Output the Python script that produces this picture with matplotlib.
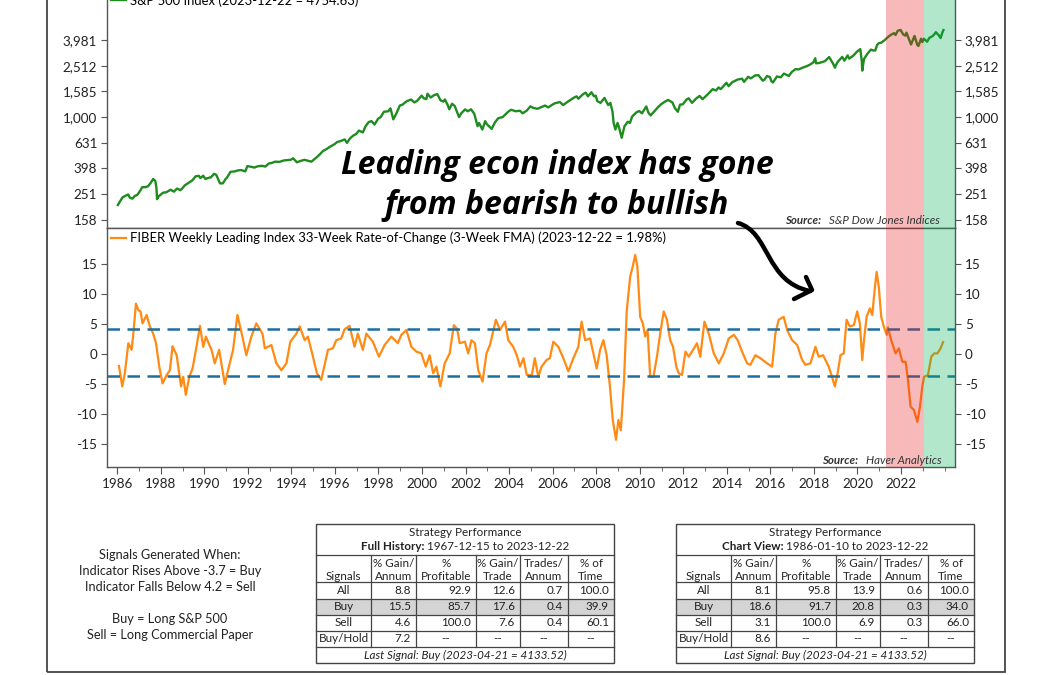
import matplotlib
matplotlib.use("Agg")
import matplotlib.pyplot as plt
from matplotlib.patches import Rectangle, PathPatch
from matplotlib.path import Path
from matplotlib.lines import Line2D
from matplotlib.ticker import FixedLocator, MultipleLocator, NullFormatter

plt.rcParams['font.family'] = ['Lato', 'DejaVu Sans']

# S&P 500 (year, level)
sp_year = [1986.03, 1986.12, 1986.25, 1986.40, 1986.50, 1986.58, 1986.70, 1986.80, 1986.92,
           1987.04, 1987.15, 1987.30, 1987.42, 1987.55, 1987.65, 1987.75, 1987.80, 1987.83, 1987.90, 1987.97,
           1988.10, 1988.25, 1988.45, 1988.60, 1988.75, 1988.90, 1988.98,
           1989.10, 1989.30, 1989.45, 1989.60, 1989.75, 1989.82, 1989.95,
           1990.05, 1990.15, 1990.30, 1990.45, 1990.55, 1990.72, 1990.85, 1990.97,
           1991.05, 1991.20, 1991.40, 1991.55, 1991.70, 1991.88, 1991.98,
           1992.15, 1992.30, 1992.45, 1992.65, 1992.80, 1992.97,
           1993.10, 1993.25, 1993.45, 1993.65, 1993.85, 1993.98,
           1994.08, 1994.25, 1994.40, 1994.60, 1994.80, 1994.92, 1994.98,
           1995.15, 1995.30, 1995.45, 1995.60, 1995.75, 1995.98,
           1996.10, 1996.25, 1996.45, 1996.55, 1996.70, 1996.85, 1996.98,
           1997.10, 1997.28, 1997.40, 1997.55, 1997.68, 1997.82, 1997.98,
           1998.10, 1998.25, 1998.45, 1998.55, 1998.68, 1998.80, 1998.98,
           1999.10, 1999.30, 1999.50, 1999.65, 1999.78, 1999.98,
           2000.08, 2000.20, 2000.25, 2000.40, 2000.55, 2000.70, 2000.85, 2000.98,
           2001.05, 2001.18, 2001.25, 2001.38, 2001.50, 2001.70, 2001.80, 2001.98,
           2002.10, 2002.25, 2002.40, 2002.55, 2002.62, 2002.77, 2002.90, 2002.98,
           2003.10, 2003.20, 2003.35, 2003.50, 2003.70, 2003.98,
           2004.10, 2004.30, 2004.50, 2004.62, 2004.80, 2004.98,
           2005.10, 2005.30, 2005.50, 2005.65, 2005.80, 2005.98,
           2006.10, 2006.33, 2006.48, 2006.70, 2006.98,
           2007.10, 2007.18, 2007.40, 2007.52, 2007.62, 2007.78, 2007.90, 2007.98,
           2008.05, 2008.20, 2008.38, 2008.55, 2008.65, 2008.75, 2008.80, 2008.88, 2008.98,
           2009.05, 2009.17, 2009.30, 2009.45, 2009.55, 2009.65, 2009.85, 2009.98,
           2010.10, 2010.30, 2010.40, 2010.50, 2010.65, 2010.85, 2010.98,
           2011.10, 2011.30, 2011.50, 2011.62, 2011.75, 2011.85, 2011.98,
           2012.15, 2012.25, 2012.40, 2012.60, 2012.75, 2012.88, 2012.98,
           2013.15, 2013.35, 2013.50, 2013.62, 2013.72, 2013.98,
           2014.08, 2014.25, 2014.50, 2014.70, 2014.79, 2014.98,
           2015.10, 2015.30, 2015.45, 2015.65, 2015.72, 2015.85, 2015.98,
           2016.05, 2016.12, 2016.30, 2016.48, 2016.62, 2016.85, 2016.98,
           2017.15, 2017.30, 2017.50, 2017.70, 2017.85, 2017.98,
           2018.06, 2018.10, 2018.25, 2018.50, 2018.70, 2018.85, 2018.97, 2018.99,
           2019.10, 2019.30, 2019.40, 2019.55, 2019.62, 2019.80, 2019.98,
           2020.05, 2020.13, 2020.20, 2020.22, 2020.30, 2020.45, 2020.62, 2020.72, 2020.82, 2020.90, 2020.98,
           2021.10, 2021.25, 2021.40, 2021.55, 2021.68, 2021.75, 2021.85, 2021.98,
           2022.10, 2022.20, 2022.25, 2022.40, 2022.46, 2022.62, 2022.75, 2022.80, 2022.92, 2022.98,
           2023.05, 2023.20, 2023.30, 2023.45, 2023.55, 2023.60, 2023.75, 2023.82, 2023.90, 2023.95]
sp_val = [207, 220, 238, 245, 250, 236, 232, 243, 248,
          265, 285, 285, 290, 310, 330, 318, 282, 230, 242, 247,
          258, 260, 272, 263, 278, 270, 278,
          294, 310, 322, 346, 349, 335, 350,
          330, 335, 340, 362, 355, 305, 305, 328,
          340, 375, 378, 385, 387, 378, 416,
          410, 405, 414, 418, 412, 436,
          440, 450, 448, 460, 463, 466,
          478, 445, 455, 465, 455, 450, 459,
          485, 512, 545, 562, 585, 615,
          640, 650, 670, 630, 685, 720, 740,
          785, 760, 845, 915, 930, 875, 970,
          1000, 1100, 1110, 1170, 960, 1050, 1229,
          1250, 1330, 1370, 1300, 1340, 1469,
          1400, 1380, 1520, 1420, 1480, 1510, 1350, 1320,
          1370, 1240, 1150, 1270, 1220, 1000, 1070, 1148,
          1110, 1150, 1060, 850, 900, 800, 930, 880,
          840, 810, 910, 980, 1000, 1110,
          1140, 1110, 1120, 1070, 1120, 1212,
          1180, 1160, 1200, 1230, 1190, 1248,
          1280, 1310, 1240, 1320, 1418,
          1450, 1390, 1510, 1550, 1450, 1560, 1450, 1468,
          1330, 1290, 1410, 1240, 1290, 1100, 900, 800, 900,
          830, 690, 850, 920, 900, 1010, 1090, 1115,
          1070, 1210, 1080, 1030, 1100, 1200, 1258,
          1300, 1360, 1300, 1170, 1100, 1250, 1258,
          1370, 1400, 1290, 1400, 1460, 1380, 1426,
          1520, 1650, 1610, 1700, 1650, 1848,
          1740, 1870, 1960, 1990, 1880, 2060,
          2000, 2110, 2120, 1920, 1950, 2090, 2044,
          1900, 1860, 2070, 2040, 2180, 2090, 2239,
          2360, 2350, 2430, 2500, 2580, 2674,
          2870, 2620, 2640, 2720, 2930, 2660, 2420, 2500,
          2700, 2940, 2750, 3020, 2850, 3000, 3231,
          3300, 3380, 2710, 2300, 2830, 3100, 3350, 3300, 3300, 3640, 3756,
          3800, 3970, 4200, 4380, 4500, 4350, 4700, 4766,
          4400, 4300, 4540, 3900, 3670, 4280, 3640, 3580, 4070, 3839,
          4070, 3860, 4130, 4270, 4450, 4580, 4300, 4120, 4550, 4755]

# FIBER leading index 33-week rate of change (%)
lei_year = [1986.08, 1986.23, 1986.35, 1986.51, 1986.66, 1986.74, 1986.86, 1986.97, 1987.07, 1987.16,
            1987.35, 1987.50, 1987.65, 1987.78, 1987.93, 1988.08, 1988.27, 1988.42, 1988.54, 1988.73,
            1988.93, 1989.03, 1989.15, 1989.31, 1989.46, 1989.64, 1989.80, 1989.95, 1990.07, 1990.33,
            1990.48, 1990.68, 1990.94, 1991.09, 1991.32, 1991.52, 1991.70, 1991.93, 1992.16, 1992.39,
            1992.67, 1992.78, 1993.08, 1993.31, 1993.54, 1993.77, 1993.95, 1994.23, 1994.38, 1994.61,
            1994.76, 1994.99, 1995.17, 1995.37, 1995.68, 1995.91, 1996.06, 1996.29, 1996.44, 1996.67,
            1996.90, 1997.05, 1997.28, 1997.44, 1997.74, 1998.02, 1998.28, 1998.59, 1998.89, 1999.05,
            1999.28, 1999.51, 1999.74, 1999.97, 2000.17, 2000.35, 2000.51, 2000.66, 2000.84, 2001.04,
            2001.27, 2001.46, 2001.61, 2001.73, 2001.97, 2002.12, 2002.27, 2002.43, 2002.58, 2002.78,
            2002.96, 2003.12, 2003.39, 2003.58, 2003.81, 2003.96, 2004.19, 2004.35, 2004.50, 2004.66,
            2004.81, 2004.97, 2005.03, 2005.18, 2005.34, 2005.49, 2005.72, 2005.87, 2006.03, 2006.26,
            2006.49, 2006.72, 2006.95, 2007.18, 2007.33, 2007.49, 2007.72, 2008.02, 2008.18, 2008.33,
            2008.48, 2008.63, 2008.76, 2008.91, 2009.02, 2009.13, 2009.28, 2009.40, 2009.56, 2009.66,
            2009.79, 2009.89, 2010.02, 2010.14, 2010.25, 2010.36, 2010.48, 2010.63, 2010.79, 2010.94,
            2011.10, 2011.25, 2011.40, 2011.53, 2011.68, 2011.79, 2011.94, 2012.10, 2012.25, 2012.45,
            2012.63, 2012.78, 2012.97, 2013.17, 2013.40, 2013.63, 2013.86, 2014.09, 2014.32, 2014.50,
            2014.70, 2014.93, 2015.08, 2015.31, 2015.54, 2015.85, 2016.08, 2016.23, 2016.38, 2016.61,
            2016.77, 2017.00, 2017.23, 2017.46, 2017.61, 2017.84, 2018.07, 2018.22, 2018.42, 2018.68,
            2018.83, 2018.96, 2019.09, 2019.22, 2019.37, 2019.50, 2019.65, 2019.83, 2019.99, 2020.11,
            2020.22, 2020.30, 2020.42, 2020.57, 2020.68, 2020.79, 2020.88, 2020.98, 2021.09, 2021.21,
            2021.34, 2021.40, 2021.55, 2021.75, 2021.90, 2022.06, 2022.21, 2022.32, 2022.44, 2022.59,
            2022.75, 2022.87, 2022.98, 2023.06, 2023.24, 2023.39, 2023.52, 2023.67, 2023.82, 2023.93]
lei_val = [-2.0, -5.4, -3.2, 1.8, 0.7, 3.4, 8.4, 7.3, 7.1, 5.1,
           6.5, 4.6, 3.4, 1.8, -2.1, -4.9, -3.5, -2.7, 1.3, -0.2,
           -5.4, -3.8, -6.8, -3.8, -2.4, 1.2, 4.7, 1.2, 2.9, 0.7,
           -1.55, 0.7, -5.0, -2.7, 0.7, 6.5, 3.7, -0.2, 2.9, 5.1,
           3.4, 0.95, 1.5, -1.55, -2.7, -1.55, 2.05, 3.4, 4.6, 2.3,
           2.9, -0.45, -3.2, -4.3, 0.7, 0.95, 2.3, 2.6, 4.1, 4.7,
           1.2, 3.4, 0.7, 3.4, 2.05, -0.45, 1.5, 2.9, 1.8, 3.2,
           4.0, 1.2, 0.4, 0.1, -2.1, -0.2, -3.2, -2.1, -5.4, -1.55,
           0.1, 4.8, 4.2, 1.8, 2.05, 0.1, 2.3, 1.8, -2.7, -4.6,
           0.1, 1.5, 5.7, 4.0, 5.4, 2.3, 1.2, -0.2, -2.1, -0.7,
           -3.5, -3.5, -3.8, -0.7, -3.8, -2.1, -1.0, -0.7, 2.05, 1.2,
           -0.7, -2.9, -0.7, 1.2, 5.4, 2.3, 2.6, -2.4, 0.7, 2.3,
           -0.2, -5.4, -11.0, -14.3, -11.0, -12.7, -4.3, 7.1, 12.9, 14.3,
           16.5, 14.6, 6.2, 5.1, 2.9, 4.0, -3.8, -3.8, -0.45, 3.4,
           7.1, 5.7, 2.3, 1.2, -2.1, -3.2, -3.5, 0.4, -0.45, 0.7,
           1.8, -0.45, 5.4, 3.4, 0.1, -1.55, 0.1, 2.6, 3.2, 2.3,
           0.4, -1.55, -1.8, -0.2, -0.7, -1.55, -2.1, 3.4, 5.7, 6.2,
           4.0, 2.3, 1.5, -1.0, -1.8, -1.55, 1.2, -0.45, -0.2, -2.1,
           -3.8, -5.4, -3.2, -0.2, 0.1, 5.7, 4.6, 4.8, 7.1, 5.1,
           -1.0, 2.3, 6.2, 7.6, 6.5, 10.7, 13.7, 11.2, 6.2, 4.6,
           3.2, 4.45, 2.3, 0.1, 0.95, -1.3, -1.3, -4.3, -8.8, -9.3,
           -11.3, -8.8, -5.4, -3.8, -3.5, -0.45, 0.1, 0.1, 0.95, 1.98]

sp_ticks = [158.49, 251.19, 398.11, 630.96, 1000, 1584.9, 2511.9, 3981.1]
sp_tick_labels = ["158", "251", "398", "631", "1,000", "1,585", "2,512", "3,981"]
lei_ticks = [-15, -10, -5, 0, 5, 10, 15]
buy_level, sell_level = -3.7, 4.2
sell_start, buy_start = 2021.30, 2023.04

table_head = [("", "Signals"), ("% Gain/", "Annum"), ("%", "Profitable"),
              ("% Gain/", "Trade"), ("Trades/", "Annum"), ("% of", "Time")]
full_rows = [["All", "8.8", "92.9", "12.6", "0.7", "100.0"],
             ["Buy", "15.5", "85.7", "17.6", "0.4", "39.9"],
             ["Sell", "4.6", "100.0", "7.6", "0.4", "60.1"],
             ["Buy/Hold", "7.2", "--", "--", "--", "--"]]
view_rows = [["All", "8.1", "95.8", "13.9", "0.6", "100.0"],
             ["Buy", "18.6", "91.7", "20.8", "0.3", "34.0"],
             ["Sell", "3.1", "100.0", "6.9", "0.3", "66.0"],
             ["Buy/Hold", "8.6", "--", "--", "--", "--"]]

W, H = 1056, 675
fig = plt.figure(figsize=(W / 100, H / 100), dpi=100)
fig.patch.set_facecolor('white')


def fx(x):
    return x / W


def fy(y):
    return 1 - y / H


ax1 = fig.add_axes([fx(107), fy(228), (955 - 107) / W, (228 + 9.5) / H])
ax2 = fig.add_axes([fx(107), fy(467), (955 - 107) / W, (467 - 228) / H], sharex=ax1)

green = '#1e8c1e'
orange = '#ff8a14'
sp_line, = ax1.plot(sp_year, sp_val, color=green, lw=1.7, zorder=2)
lei_line, = ax2.plot(lei_year, lei_val, color=orange, lw=1.6, zorder=2)

ax1.set_yscale('log')
ax1.set_ylim(10 ** 2.137, 10 ** 3.985)
ax1.yaxis.set_major_locator(FixedLocator(sp_ticks))
ax1.yaxis.set_minor_locator(FixedLocator([]))
ax1.set_yticklabels(sp_tick_labels)
ax1.yaxis.set_minor_formatter(NullFormatter())

ax2.set_ylim(-18.83, 21.0)
ax2.set_yticks(lei_ticks)
ax2.set_yticklabels([str(t) for t in lei_ticks])

ax2.set_xlim(1985.53, 2024.48)
ax2.xaxis.set_major_locator(MultipleLocator(2))
ax2.xaxis.set_minor_locator(MultipleLocator(1))
ax2.set_xticks(range(1986, 2023, 2))

for ax in (ax1, ax2):
    ax.tick_params(axis='y', which='both', left=True, right=True, labelleft=True, labelright=True,
                   direction='out', length=4, color='#555555', labelsize=9.7, labelcolor='#222222', pad=3)
    for s in ax.spines.values():
        s.set_color('#555555')
        s.set_linewidth(1.0)
    ax.axvspan(sell_start, buy_start, color='#e8191c', alpha=0.3, lw=0, zorder=3)
    ax.axvspan(buy_start, 2024.48, color='#00b255', alpha=0.3, lw=0, zorder=3)

ax1.tick_params(axis='x', which='both', bottom=False, labelbottom=False, top=False)
ax2.tick_params(axis='x', which='both', direction='out', color='#555555', labelsize=9.7,
                labelcolor='#222222', top=False)
ax2.tick_params(axis='x', which='major', length=5, pad=3)
ax2.tick_params(axis='x', which='minor', length=3)

for lvl in (sell_level, buy_level):
    ax2.axhline(lvl, color='#1d6fa0', lw=1.8, linestyle=(0, (5, 3)), zorder=2)

leg_kw = dict(loc='upper left', frameon=False, fontsize=9.35, handlelength=1.2, handletextpad=0.3,
              borderaxespad=0.05, borderpad=0.25)
ax1.legend([sp_line], ["S&P 500 Index (2023-12-22 = 4754.63)"], **leg_kw)
ax2.legend([lei_line], ["FIBER Weekly Leading Index 33-Week Rate-of-Change (3-Week FMA) (2023-12-22 = 1.98%)"],
           **leg_kw)

fig.canvas.draw()
renderer = fig.canvas.get_renderer()


def source(right_x, y, name):
    t = fig.text(fx(right_x), fy(y), name, ha='right', va='center', fontsize=8.3,
                 fontstyle='italic', color='#333333', zorder=5)
    w = t.get_window_extent(renderer).width
    fig.text(fx(right_x - w - 8), fy(y), "Source:", ha='right', va='center', fontsize=8.3,
             fontstyle='italic', fontweight='bold', color='#333333', zorder=5)


source(940, 220, "S&P Dow Jones Indices")
source(942, 461, "Haver Analytics")

# annotation
fig.text(fx(557), fy(165), "Leading econ index has gone", ha='center', va='center', fontsize=23,
         fontweight='bold', fontstyle='italic', family='Open Sans', color='black')
fig.text(fx(557), fy(206), "from bearish to bullish", ha='center', va='center', fontsize=23,
         fontweight='bold', fontstyle='italic', family='Open Sans', color='black')

pts = [(738, 223), (770, 232), (765, 282), (810, 291)]
arrow = Path([(fx(x), fy(y)) for x, y in pts], [Path.MOVETO, Path.CURVE4, Path.CURVE4, Path.CURVE4])
fig.patches.append(PathPatch(arrow, transform=fig.transFigure, fill=False, ec='black', lw=3.2,
                             capstyle='round'))
head = [(806, 277), (812, 290), (794, 299)]
fig.lines.append(Line2D([fx(x) for x, y in head], [fy(y) for x, y in head], transform=fig.transFigure,
                        color='black', lw=3.2, solid_capstyle='round', solid_joinstyle='round'))

# outer frame
fig.patches.append(Rectangle((fx(47), fy(672)), (1005 - 47) / W, 1.2, transform=fig.transFigure,
                             fill=False, ec='#444444', lw=1.3))

# signal description
desc = ["Signals Generated When:", "Indicator Rises Above -3.7 = Buy", "Indicator Falls Below 4.2 = Sell",
        "", "Buy = Long S&P 500", "Sell = Long Commercial Paper"]
for i, line in enumerate(desc):
    fig.text(fx(170), fy(555 + i * 16), line, ha='center', va='center', fontsize=9.2, color='#222222')


def hline(x0, x1, y, lw=0.9):
    fig.lines.append(Line2D([fx(x0), fx(x1)], [fy(y), fy(y)], transform=fig.transFigure,
                            color='#444444', lw=lw))


def vline(x, y0, y1, lw=0.9):
    fig.lines.append(Line2D([fx(x), fx(x)], [fy(y0), fy(y1)], transform=fig.transFigure,
                            color='#444444', lw=lw))


def table(x0, bold, rest, rows):
    edges = [x0 + d for d in (0, 55, 100, 160, 204, 252, 298)]
    x1 = edges[-1]
    row_edges = [582, 599, 614.5, 631, 647]
    top, bottom = 524, 663
    fig.patches.append(Rectangle((fx(x0), fy(row_edges[1] + 15.5)), (x1 - x0) / W, 15.5 / H,
                                 transform=fig.transFigure, fc='#d4d4d4', ec='none'))
    fig.patches.append(Rectangle((fx(x0), fy(bottom)), (x1 - x0) / W, (bottom - top) / H,
                                 transform=fig.transFigure, fill=False, ec='#444444', lw=1.0))
    hline(x0, x1, 554.5)
    for y in row_edges:
        hline(x0, x1, y)
    for x in edges[1:-1]:
        vline(x, 554.5, 647)
    xc = (x0 + x1) / 2
    fs = 8.4
    fig.text(fx(xc), fy(532), "Strategy Performance", ha='center', va='center', fontsize=fs, color='#222222')
    tb = fig.text(0, 0, bold, fontsize=fs, fontweight='bold')
    tr = fig.text(0, 0, rest, fontsize=fs)
    wb = tb.get_window_extent(renderer).width
    wr = tr.get_window_extent(renderer).width
    left = xc - (wb + wr) / 2
    for t, x in ((tb, left), (tr, left + wb)):
        t.set_position((fx(x), fy(547)))
        t.set_va('center')
        t.set_color('#222222')
    for j, (a, b) in enumerate(table_head):
        cx = (edges[j] + edges[j + 1]) / 2
        fig.text(fx(cx), fy(563.5), a, ha='center', va='center', fontsize=fs, color='#222222')
        fig.text(fx(cx), fy(576), b, ha='center', va='center', fontsize=fs, color='#222222')
    for i, row in enumerate(rows):
        cy = (row_edges[i] + row_edges[i + 1]) / 2
        for j, v in enumerate(row):
            if j == 0 or v == "--":
                fig.text(fx((edges[j] + edges[j + 1]) / 2), fy(cy), v, ha='center', va='center',
                         fontsize=fs, color='#222222')
            else:
                fig.text(fx(edges[j + 1] - 5), fy(cy), v, ha='right', va='center',
                         fontsize=fs, color='#222222')
    fig.text(fx(xc), fy(655), "Last Signal: Buy (2023-04-21 = 4133.52)", ha='center', va='center',
             fontsize=fs, fontstyle='italic', color='#222222')


table(316, "Full History:", " 1967-12-15 to 2023-12-22", full_rows)
table(676, "Chart View:", " 1986-01-10 to 2023-12-22", view_rows)

fig.savefig("out.png", dpi=100)
